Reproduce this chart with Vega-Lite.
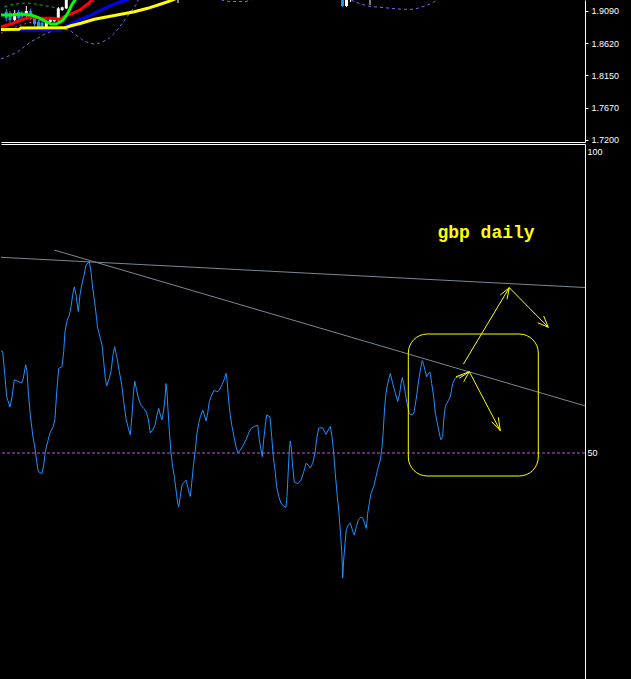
{
  "$schema": "https://vega.github.io/schema/vega-lite/v6.json",
  "background": "#000000",
  "padding": 0,
  "spacing": 2,
  "bounds": "flush",
  "config": {
    "view": {"stroke": null},
    "axis": {"grid": false, "domainColor": "#ffffff", "domainWidth": 1, "tickColor": "#ffffff", "labelColor": "#ffffff", "labelFont": "Liberation Sans", "labelFontSize": 9}
  },
  "datasets": {
    "candles": [
      {"t": 5.3, "top": 1.9080, "bot": 1.8983, "hi": 1.9119, "lo": 1.8943, "dir": "down"},
      {"t": 9, "top": 1.9061, "bot": 1.8958, "hi": 1.9090, "lo": 1.8914, "dir": "down"},
      {"t": 13.7, "top": 1.9056, "bot": 1.8958, "hi": 1.9104, "lo": 1.8929, "dir": "up"},
      {"t": 17.7, "top": 1.9075, "bot": 1.8983, "hi": 1.9104, "lo": 1.8943, "dir": "down"},
      {"t": 21, "top": 1.9056, "bot": 1.9006, "hi": 1.9090, "lo": 1.8973, "dir": "down"},
      {"t": 25.3, "top": 1.9090, "bot": 1.9021, "hi": 1.9163, "lo": 1.9002, "dir": "up"},
      {"t": 29.7, "top": 1.9090, "bot": 1.8973, "hi": 1.9129, "lo": 1.8958, "dir": "down"},
      {"t": 33.5, "top": 1.8998, "bot": 1.8899, "hi": 1.9017, "lo": 1.8870, "dir": "down"},
      {"t": 37.5, "top": 1.8933, "bot": 1.8851, "hi": 1.8958, "lo": 1.8826, "dir": "down"},
      {"t": 41, "top": 1.8918, "bot": 1.8851, "hi": 1.8943, "lo": 1.8826, "dir": "down"},
      {"t": 45.3, "top": 1.8933, "bot": 1.8836, "hi": 1.8948, "lo": 1.8801, "dir": "up"},
      {"t": 49.3, "top": 1.8968, "bot": 1.8929, "hi": 1.8987, "lo": 1.8914, "dir": "up"},
      {"t": 53.3, "top": 1.8977, "bot": 1.8939, "hi": 1.8987, "lo": 1.8929, "dir": "up"},
      {"t": 57.3, "top": 1.9129, "bot": 1.8958, "hi": 1.9148, "lo": 1.8943, "dir": "up"},
      {"t": 61.2, "top": 1.9144, "bot": 1.9104, "hi": 1.9153, "lo": 1.9090, "dir": "up"},
      {"t": 65.3, "top": 1.9324, "bot": 1.9129, "hi": 1.9368, "lo": 1.9119, "dir": "up"},
      {"t": 177, "top": 1.9324, "bot": 1.9300, "hi": 1.9368, "lo": 1.9207, "dir": "up"},
      {"t": 341.5, "top": 1.9324, "bot": 1.9163, "hi": 1.9368, "lo": 1.9148, "dir": "down"},
      {"t": 345.5, "top": 1.9324, "bot": 1.9163, "hi": 1.9368, "lo": 1.9148, "dir": "up"},
      {"t": 349.5, "top": 1.9324, "bot": 1.9300, "hi": 1.9368, "lo": 1.9222, "dir": "up"},
      {"t": 369, "top": 1.9324, "bot": 1.9300, "hi": 1.9368, "lo": 1.9178, "dir": "up"}
    ],
    "ma": [
      {"s": "yellow", "seg": "a", "t": 0, "p": 1.8819},
      {"s": "yellow", "seg": "a", "t": 18, "p": 1.8822},
      {"s": "yellow", "seg": "a", "t": 20, "p": 1.8841},
      {"s": "yellow", "seg": "a", "t": 64, "p": 1.8843},
      {"s": "yellow", "seg": "a", "t": 70, "p": 1.8874},
      {"s": "yellow", "seg": "a", "t": 80, "p": 1.8910},
      {"s": "yellow", "seg": "a", "t": 93.3, "p": 1.8968},
      {"s": "yellow", "seg": "a", "t": 106.7, "p": 1.9006},
      {"s": "yellow", "seg": "a", "t": 120, "p": 1.9041},
      {"s": "yellow", "seg": "a", "t": 133.3, "p": 1.9080},
      {"s": "yellow", "seg": "a", "t": 146.7, "p": 1.9129},
      {"s": "yellow", "seg": "a", "t": 160, "p": 1.9192},
      {"s": "yellow", "seg": "a", "t": 170, "p": 1.9241},
      {"s": "yellow", "seg": "a", "t": 185, "p": 1.9339},
      {"s": "blue", "seg": "a", "t": 0, "p": 1.8807},
      {"s": "blue", "seg": "a", "t": 18, "p": 1.8810},
      {"s": "blue", "seg": "a", "t": 60, "p": 1.8819},
      {"s": "blue", "seg": "a", "t": 65, "p": 1.8870},
      {"s": "blue", "seg": "a", "t": 76.7, "p": 1.8948},
      {"s": "blue", "seg": "a", "t": 90, "p": 1.9031},
      {"s": "blue", "seg": "a", "t": 103.3, "p": 1.9129},
      {"s": "blue", "seg": "a", "t": 116.7, "p": 1.9211},
      {"s": "blue", "seg": "a", "t": 125, "p": 1.9251},
      {"s": "blue", "seg": "a", "t": 135, "p": 1.9310},
      {"s": "red", "seg": "a", "t": 0, "p": 1.8860},
      {"s": "red", "seg": "a", "t": 10, "p": 1.8899},
      {"s": "red", "seg": "a", "t": 20, "p": 1.8958},
      {"s": "red", "seg": "a", "t": 30, "p": 1.9006},
      {"s": "red", "seg": "a", "t": 40, "p": 1.8983},
      {"s": "red", "seg": "a", "t": 50, "p": 1.8983},
      {"s": "red", "seg": "a", "t": 58.3, "p": 1.8968},
      {"s": "red", "seg": "a", "t": 65, "p": 1.9017},
      {"s": "red", "seg": "a", "t": 71.7, "p": 1.9056},
      {"s": "red", "seg": "a", "t": 80, "p": 1.9115},
      {"s": "red", "seg": "a", "t": 86.7, "p": 1.9192},
      {"s": "red", "seg": "a", "t": 90.7, "p": 1.9251},
      {"s": "red", "seg": "a", "t": 95, "p": 1.9295},
      {"s": "green", "seg": "a", "t": 0, "p": 1.9031},
      {"s": "green", "seg": "a", "t": 10, "p": 1.9031},
      {"s": "green", "seg": "a", "t": 20, "p": 1.9046},
      {"s": "green", "seg": "a", "t": 30, "p": 1.9031},
      {"s": "green", "seg": "a", "t": 36.7, "p": 1.8998},
      {"s": "green", "seg": "a", "t": 43.3, "p": 1.8948},
      {"s": "green", "seg": "a", "t": 50, "p": 1.8899},
      {"s": "green", "seg": "a", "t": 55, "p": 1.8899},
      {"s": "green", "seg": "a", "t": 61.7, "p": 1.8948},
      {"s": "green", "seg": "a", "t": 66.7, "p": 1.9056},
      {"s": "green", "seg": "a", "t": 70.7, "p": 1.9178},
      {"s": "green", "seg": "a", "t": 74, "p": 1.9251},
      {"s": "green", "seg": "a", "t": 77, "p": 1.9310},
      {"s": "env", "seg": "a", "t": 3.3, "p": 1.9153},
      {"s": "env", "seg": "a", "t": 10, "p": 1.9178},
      {"s": "env", "seg": "a", "t": 20, "p": 1.9203},
      {"s": "env", "seg": "a", "t": 30, "p": 1.9203},
      {"s": "env", "seg": "a", "t": 40, "p": 1.9178},
      {"s": "env", "seg": "a", "t": 50, "p": 1.9153},
      {"s": "env", "seg": "a", "t": 56, "p": 1.9129},
      {"s": "mag", "seg": "a", "t": 0, "p": 1.8768},
      {"s": "mag", "seg": "a", "t": 10, "p": 1.8830},
      {"s": "mag", "seg": "a", "t": 20, "p": 1.8885},
      {"s": "mag", "seg": "a", "t": 27, "p": 1.8914},
      {"s": "mag", "seg": "a", "t": 40, "p": 1.8950},
      {"s": "mag", "seg": "b", "t": 80, "p": 1.9090},
      {"s": "mag", "seg": "b", "t": 86, "p": 1.9163},
      {"s": "mag", "seg": "b", "t": 93, "p": 1.9226},
      {"s": "mag", "seg": "b", "t": 97, "p": 1.9280},
      {"s": "band", "seg": "a", "t": 0, "p": 1.8387},
      {"s": "band", "seg": "a", "t": 10, "p": 1.8445},
      {"s": "band", "seg": "a", "t": 16.7, "p": 1.8494},
      {"s": "band", "seg": "a", "t": 23.3, "p": 1.8567},
      {"s": "band", "seg": "a", "t": 30, "p": 1.8640},
      {"s": "band", "seg": "a", "t": 38.3, "p": 1.8704},
      {"s": "band", "seg": "a", "t": 45, "p": 1.8763},
      {"s": "band", "seg": "a", "t": 51.7, "p": 1.8797},
      {"s": "band", "seg": "a", "t": 60, "p": 1.8826},
      {"s": "band", "seg": "a", "t": 68.3, "p": 1.8811},
      {"s": "band", "seg": "a", "t": 75, "p": 1.8738},
      {"s": "band", "seg": "a", "t": 81.7, "p": 1.8665},
      {"s": "band", "seg": "a", "t": 88.3, "p": 1.8617},
      {"s": "band", "seg": "a", "t": 95, "p": 1.8602},
      {"s": "band", "seg": "a", "t": 101.7, "p": 1.8640},
      {"s": "band", "seg": "a", "t": 108.3, "p": 1.8690},
      {"s": "band", "seg": "a", "t": 115, "p": 1.8787},
      {"s": "band", "seg": "a", "t": 120, "p": 1.8885},
      {"s": "band", "seg": "a", "t": 125, "p": 1.8983},
      {"s": "band", "seg": "a", "t": 130, "p": 1.9080},
      {"s": "band", "seg": "a", "t": 135, "p": 1.9178},
      {"s": "band", "seg": "a", "t": 137.3, "p": 1.9251},
      {"s": "band", "seg": "a", "t": 140, "p": 1.9324},
      {"s": "band", "seg": "b", "t": 215, "p": 1.9295},
      {"s": "band", "seg": "b", "t": 222, "p": 1.9244},
      {"s": "band", "seg": "b", "t": 228, "p": 1.9229},
      {"s": "band", "seg": "b", "t": 245, "p": 1.9229},
      {"s": "band", "seg": "b", "t": 250, "p": 1.9251},
      {"s": "band", "seg": "b", "t": 255, "p": 1.9295},
      {"s": "band", "seg": "c", "t": 345, "p": 1.9295},
      {"s": "band", "seg": "c", "t": 353.3, "p": 1.9226},
      {"s": "band", "seg": "c", "t": 360, "p": 1.9192},
      {"s": "band", "seg": "c", "t": 366.7, "p": 1.9163},
      {"s": "band", "seg": "c", "t": 371.7, "p": 1.9153},
      {"s": "band", "seg": "c", "t": 380, "p": 1.9144},
      {"s": "band", "seg": "c", "t": 390, "p": 1.9129},
      {"s": "band", "seg": "c", "t": 401.7, "p": 1.9115},
      {"s": "band", "seg": "c", "t": 413.3, "p": 1.9115},
      {"s": "band", "seg": "c", "t": 420, "p": 1.9144},
      {"s": "band", "seg": "c", "t": 426.7, "p": 1.9178},
      {"s": "band", "seg": "c", "t": 433.3, "p": 1.9226},
      {"s": "band", "seg": "c", "t": 436.7, "p": 1.9251},
      {"s": "band", "seg": "c", "t": 440, "p": 1.9295}
    ],
    "rsi": [
      {"t":0,"v":66.9},{"t":1.7,"v":66.8},{"t":4,"v":62.6},{"t":5.7,"v":59.3},{"t":9,"v":57.6},{"t":11,"v":59.3},
      {"t":13.3,"v":62.1},{"t":16.7,"v":61.9},{"t":20.7,"v":61.6},{"t":22.3,"v":62.4},{"t":24.7,"v":64.6},{"t":26,"v":63.5},
      {"t":27.3,"v":60.1},{"t":29.3,"v":56.3},{"t":31.7,"v":53.0},{"t":34,"v":50.8},{"t":35.7,"v":48.6},{"t":37.3,"v":46.9},
      {"t":41,"v":46.6},{"t":42.7,"v":48.0},{"t":44.3,"v":50.2},{"t":46.7,"v":51.9},{"t":49,"v":53.3},{"t":52.3,"v":54.4},
      {"t":54,"v":55.7},{"t":55.7,"v":60.1},{"t":57.7,"v":64.0},{"t":61,"v":64.3},{"t":62.7,"v":66.8},{"t":64,"v":70.1},
      {"t":66,"v":71.9},{"t":68.3,"v":72.8},{"t":70,"v":74.2},{"t":71.7,"v":76.2},{"t":73.3,"v":77.5},{"t":75,"v":76.2},
      {"t":77.3,"v":73.4},{"t":79,"v":76.2},{"t":80.7,"v":77.8},{"t":82.7,"v":79.2},{"t":85,"v":81.1},{"t":88.3,"v":81.7},
      {"t":90,"v":80.0},{"t":91.7,"v":77.3},{"t":94,"v":74.5},{"t":96.7,"v":70.7},{"t":99.3,"v":69.0},{"t":101,"v":67.9},
      {"t":102.7,"v":65.1},{"t":104.3,"v":62.4},{"t":105.7,"v":61.1},{"t":108.3,"v":62.4},{"t":110,"v":63.5},{"t":112,"v":66.2},
      {"t":113.7,"v":67.6},{"t":116,"v":65.7},{"t":118.3,"v":63.5},{"t":120.7,"v":61.3},{"t":122.7,"v":58.5},{"t":125,"v":55.7},
      {"t":127.3,"v":54.1},{"t":129.3,"v":53.0},{"t":131,"v":56.3},{"t":132.3,"v":59.6},{"t":133.7,"v":61.9},{"t":135.3,"v":60.7},
      {"t":137.3,"v":59.1},{"t":140,"v":57.9},{"t":142.7,"v":57.4},{"t":145.3,"v":56.8},{"t":147.3,"v":55.6},{"t":149.3,"v":53.3},
      {"t":151.7,"v":53.8},{"t":154,"v":54.6},{"t":156,"v":56.3},{"t":157.7,"v":57.4},{"t":159.3,"v":56.3},{"t":161,"v":55.5},
      {"t":162.7,"v":57.1},{"t":164,"v":59.1},{"t":165,"v":61.5},{"t":166,"v":60.1},{"t":167,"v":57.1},{"t":168.3,"v":53.8},
      {"t":170,"v":50.0},{"t":171.7,"v":47.7},{"t":173.3,"v":46.1},{"t":175,"v":43.9},{"t":176.7,"v":41.7},{"t":177.7,"v":41.1},
      {"t":179.3,"v":42.8},{"t":181,"v":44.7},{"t":182.7,"v":45.1},{"t":185,"v":45.5},{"t":186.7,"v":44.4},{"t":188.3,"v":43.3},
      {"t":189.3,"v":42.8},{"t":190.7,"v":45.0},{"t":192.3,"v":47.7},{"t":194.3,"v":50.5},{"t":196,"v":53.3},{"t":197.7,"v":54.9},
      {"t":199.3,"v":56.0},{"t":201.7,"v":57.1},{"t":203.3,"v":56.3},{"t":205,"v":55.3},{"t":206.7,"v":56.6},{"t":208.3,"v":58.5},
      {"t":210.7,"v":59.6},{"t":213.3,"v":60.4},{"t":216,"v":60.1},{"t":218.3,"v":60.4},{"t":221,"v":61.3},{"t":223.3,"v":62.2},
      {"t":225,"v":63.2},{"t":226,"v":62.1},{"t":227.3,"v":59.3},{"t":229,"v":56.6},{"t":231,"v":54.4},{"t":233,"v":52.7},
      {"t":235,"v":51.0},{"t":237,"v":50.0},{"t":239.3,"v":50.5},{"t":242.3,"v":51.3},{"t":245,"v":52.2},{"t":247.7,"v":53.3},
      {"t":250.3,"v":54.1},{"t":253.3,"v":54.4},{"t":256.7,"v":54.6},{"t":258.3,"v":52.2},{"t":260,"v":50.5},{"t":261.3,"v":49.4},
      {"t":262.7,"v":52.2},{"t":264.3,"v":54.6},{"t":265.7,"v":56.3},{"t":269,"v":56.0},{"t":270.7,"v":52.7},{"t":272.3,"v":49.4},
      {"t":274,"v":47.2},{"t":275.7,"v":44.4},{"t":277.7,"v":42.8},{"t":280,"v":41.7},{"t":282.7,"v":41.2},{"t":285,"v":41.0},
      {"t":286,"v":42.8},{"t":287.3,"v":47.2},{"t":288.3,"v":50.5},{"t":289.3,"v":52.0},{"t":290.3,"v":50.8},{"t":291.7,"v":47.7},
      {"t":293.3,"v":45.2},{"t":296.7,"v":44.9},{"t":300,"v":45.5},{"t":302.3,"v":46.6},{"t":305,"v":48.3},{"t":307.3,"v":48.0},
      {"t":309.3,"v":47.5},{"t":311.7,"v":48.3},{"t":314,"v":50.0},{"t":316,"v":52.7},{"t":317.7,"v":54.1},{"t":321.7,"v":54.2},
      {"t":325,"v":53.1},{"t":327.3,"v":53.8},{"t":329.3,"v":54.4},{"t":331,"v":52.7},{"t":332.7,"v":50.0},{"t":334.3,"v":46.6},
      {"t":336,"v":43.3},{"t":337.7,"v":40.6},{"t":339,"v":37.8},{"t":340,"v":35.6},{"t":341,"v":32.8},{"t":341.7,"v":29.3},
      {"t":342.7,"v":32.3},{"t":344,"v":35.0},{"t":345.3,"v":37.3},{"t":347.3,"v":38.1},{"t":349.3,"v":38.4},{"t":351.3,"v":37.3},
      {"t":353.3,"v":36.4},{"t":355.3,"v":37.8},{"t":357.3,"v":38.9},{"t":360,"v":39.4},{"t":362,"v":39.2},{"t":364,"v":38.1},
      {"t":365.3,"v":37.5},{"t":366.7,"v":40.0},{"t":368.3,"v":41.7},{"t":370,"v":43.3},{"t":372.7,"v":44.4},{"t":375,"v":46.1},
      {"t":377.3,"v":47.7},{"t":379.3,"v":48.8},{"t":381,"v":51.0},{"t":382.3,"v":53.8},{"t":383.7,"v":57.7},{"t":385,"v":59.9},
      {"t":386.7,"v":61.5},{"t":389.3,"v":63.2},{"t":391.7,"v":61.5},{"t":394,"v":60.1},{"t":396.7,"v":58.5},{"t":398.7,"v":59.9},
      {"t":400,"v":61.5},{"t":401.3,"v":62.5},{"t":402.7,"v":61.5},{"t":404.3,"v":59.9},{"t":406,"v":58.2},{"t":408.3,"v":56.6},
      {"t":410,"v":56.3},{"t":412.7,"v":56.5},{"t":414,"v":57.7},{"t":416,"v":59.9},{"t":417.7,"v":62.1},{"t":419.3,"v":63.7},
      {"t":421.3,"v":65.3},{"t":422.7,"v":64.6},{"t":424,"v":63.7},{"t":425.7,"v":62.6},{"t":427.3,"v":63.2},{"t":429,"v":63.4},
      {"t":430.7,"v":61.5},{"t":432.7,"v":59.3},{"t":434.3,"v":56.6},{"t":436,"v":55.2},{"t":437.7,"v":53.8},{"t":439.3,"v":52.5},
      {"t":440,"v":52.2},{"t":441.7,"v":52.7},{"t":442.7,"v":55.5},{"t":444.3,"v":57.7},{"t":446.7,"v":58.5},{"t":449.3,"v":59.3},
      {"t":451.7,"v":61.5},{"t":454.3,"v":62.4},{"t":458.3,"v":62.7},{"t":461.7,"v":62.9}
    ],
    "trend": [
      {"id": "t1", "t": 0, "v": 82.4}, {"id": "t1", "t": 584, "v": 77.4},
      {"id": "t2", "t": 53.3, "v": 83.6}, {"id": "t2", "t": 584, "v": 57.8}
    ],
    "level": [{"v": 50}],
    "box": [{"t1": 407.3, "t2": 537.3, "v1": 69.7, "v2": 46.19}],
    "arrows": [
      {"seg": "A", "i": 0, "t": 462.3, "v": 64.69}, {"seg": "A", "i": 1, "t": 508.3, "v": 77.37},
      {"seg": "Ab1", "i": 0, "t": 508.3, "v": 77.37}, {"seg": "Ab1", "i": 1, "t": 499.3, "v": 76.16},
      {"seg": "Ab2", "i": 0, "t": 508.3, "v": 77.37}, {"seg": "Ab2", "i": 1, "t": 506, "v": 75.45},
      {"seg": "B", "i": 0, "t": 508.3, "v": 77.37}, {"seg": "B", "i": 1, "t": 547.3, "v": 70.81},
      {"seg": "Bb1", "i": 0, "t": 547.3, "v": 70.81}, {"seg": "Bb1", "i": 1, "t": 536.7, "v": 71.57},
      {"seg": "Bb2", "i": 0, "t": 547.3, "v": 70.81}, {"seg": "Bb2", "i": 1, "t": 542.7, "v": 72.68},
      {"seg": "C", "i": 0, "t": 455, "v": 62.63}, {"seg": "C", "i": 1, "t": 468.3, "v": 63.46},
      {"seg": "Cb1", "i": 0, "t": 468.3, "v": 63.46}, {"seg": "Cb1", "i": 1, "t": 458.3, "v": 62.37},
      {"seg": "Cb2", "i": 0, "t": 468.3, "v": 63.46}, {"seg": "Cb2", "i": 1, "t": 462.7, "v": 61.8},
      {"seg": "D", "i": 0, "t": 468.3, "v": 63.46}, {"seg": "D", "i": 1, "t": 499.3, "v": 53.69},
      {"seg": "Db1", "i": 0, "t": 499.3, "v": 53.69}, {"seg": "Db1", "i": 1, "t": 490.7, "v": 55.18},
      {"seg": "Db2", "i": 0, "t": 499.3, "v": 53.69}, {"seg": "Db2", "i": 1, "t": 497.3, "v": 55.91}
    ],
    "label": [{"t": 485, "v": 85.6, "text": "gbp daily"}]
  },
  "vconcat": [
    {
      "width": 584,
      "height": 142,
      "encoding": {
        "x": {"type": "quantitative", "scale": {"domain": [0, 584], "nice": false, "zero": false, "padding": 0}, "axis": {"orient": "bottom", "labels": false, "ticks": false, "domain": true, "title": null}},
        "y": {"type": "quantitative", "scale": {"domain": [1.717, 1.9251], "nice": false, "zero": false}, "axis": {"orient": "right", "values": [1.909, 1.862, 1.815, 1.767, 1.72], "format": ".4f", "tickSize": 3, "labelPadding": 3, "title": null, "minExtent": 47, "maxExtent": 47}}
      },
      "layer": [
        {
          "data": {"name": "ma"},
          "transform": [{"filter": "datum.s == 'band'"}],
          "mark": {"type": "line", "clip": true, "color": "#7b68ee", "strokeWidth": 1, "strokeDash": [3, 3]},
          "encoding": {"x": {"field": "t"}, "y": {"field": "p"}, "detail": {"field": "seg"}}
        },
        {
          "data": {"name": "ma"},
          "transform": [{"filter": "datum.s == 'mag'"}],
          "mark": {"type": "line", "clip": true, "color": "#e030e0", "strokeWidth": 1, "strokeDash": [2, 3]},
          "encoding": {"x": {"field": "t"}, "y": {"field": "p"}, "detail": {"field": "seg"}}
        },
        {
          "data": {"name": "ma"},
          "transform": [{"filter": "datum.s == 'env'"}],
          "mark": {"type": "line", "clip": true, "color": "#00c000", "strokeWidth": 1, "strokeDash": [3, 3]},
          "encoding": {"x": {"field": "t"}, "y": {"field": "p"}}
        },
        {
          "data": {"name": "candles"},
          "mark": {"type": "rule", "clip": true, "strokeWidth": 1},
          "encoding": {
            "x": {"field": "t"},
            "y": {"field": "lo"},
            "y2": {"field": "hi"},
            "color": {"field": "dir", "type": "nominal", "scale": {"domain": ["up", "down"], "range": ["#ffffff", "#1e90ff"]}, "legend": null}
          }
        },
        {
          "data": {"name": "candles"},
          "mark": {"type": "bar", "clip": true, "size": 3},
          "encoding": {
            "x": {"field": "t"},
            "y": {"field": "bot"},
            "y2": {"field": "top"},
            "color": {"field": "dir", "type": "nominal", "scale": {"domain": ["up", "down"], "range": ["#ffffff", "#1e90ff"]}, "legend": null}
          }
        },
        {
          "data": {"name": "ma"},
          "transform": [{"filter": "datum.s == 'red'"}],
          "mark": {"type": "line", "clip": true, "color": "#ff0000", "strokeWidth": 3},
          "encoding": {"x": {"field": "t"}, "y": {"field": "p"}}
        },
        {
          "data": {"name": "ma"},
          "transform": [{"filter": "datum.s == 'blue'"}],
          "mark": {"type": "line", "clip": true, "color": "#0000ff", "strokeWidth": 3},
          "encoding": {"x": {"field": "t"}, "y": {"field": "p"}}
        },
        {
          "data": {"name": "ma"},
          "transform": [{"filter": "datum.s == 'green'"}],
          "mark": {"type": "line", "clip": true, "color": "#00ff00", "strokeWidth": 3},
          "encoding": {"x": {"field": "t"}, "y": {"field": "p"}}
        },
        {
          "data": {"name": "ma"},
          "transform": [{"filter": "datum.s == 'yellow'"}],
          "mark": {"type": "line", "clip": true, "color": "#ffff00", "strokeWidth": 3},
          "encoding": {"x": {"field": "t"}, "y": {"field": "p"}}
        }
      ]
    },
    {
      "width": 584,
      "height": 535,
      "encoding": {
        "x": {"type": "quantitative", "scale": {"domain": [0, 584], "nice": false, "zero": false, "padding": 0}, "axis": {"orient": "top", "labels": false, "ticks": false, "domain": true, "title": null}},
        "y": {"type": "quantitative", "scale": {"domain": [12.58, 101.16], "nice": false, "zero": false}, "axis": {"orient": "right", "values": [100, 50], "format": "d", "ticks": false, "labelPadding": 2, "title": null, "minExtent": 47, "maxExtent": 47}}
      },
      "layer": [
        {
          "data": {"name": "rsi"},
          "mark": {"type": "line", "clip": true, "color": "#1e90ff", "strokeWidth": 1},
          "encoding": {"x": {"field": "t"}, "y": {"field": "v"}}
        },
        {
          "data": {"name": "level"},
          "mark": {"type": "rule", "color": "#b455e0", "strokeWidth": 1, "strokeDash": [3, 2]},
          "encoding": {"y": {"field": "v"}}
        },
        {
          "data": {"name": "trend"},
          "mark": {"type": "line", "clip": true, "color": "#778899", "strokeWidth": 1},
          "encoding": {"x": {"field": "t"}, "y": {"field": "v"}, "detail": {"field": "id"}}
        },
        {
          "data": {"name": "box"},
          "mark": {"type": "rect", "clip": true, "fillOpacity": 0, "stroke": "#ffff00", "strokeWidth": 1, "cornerRadius": 19},
          "encoding": {"x": {"field": "t1"}, "x2": {"field": "t2"}, "y": {"field": "v1"}, "y2": {"field": "v2"}}
        },
        {
          "data": {"name": "arrows"},
          "mark": {"type": "line", "clip": true, "color": "#ffff00", "strokeWidth": 1},
          "encoding": {"x": {"field": "t"}, "y": {"field": "v"}, "detail": {"field": "seg"}, "order": {"field": "i"}}
        },
        {
          "data": {"name": "label"},
          "mark": {"type": "text", "color": "#ffff00", "font": "Liberation Mono", "fontSize": 18, "fontWeight": "bold", "align": "center", "baseline": "alphabetic"},
          "encoding": {"x": {"field": "t"}, "y": {"field": "v"}, "text": {"field": "text"}}
        }
      ]
    }
  ]
}
